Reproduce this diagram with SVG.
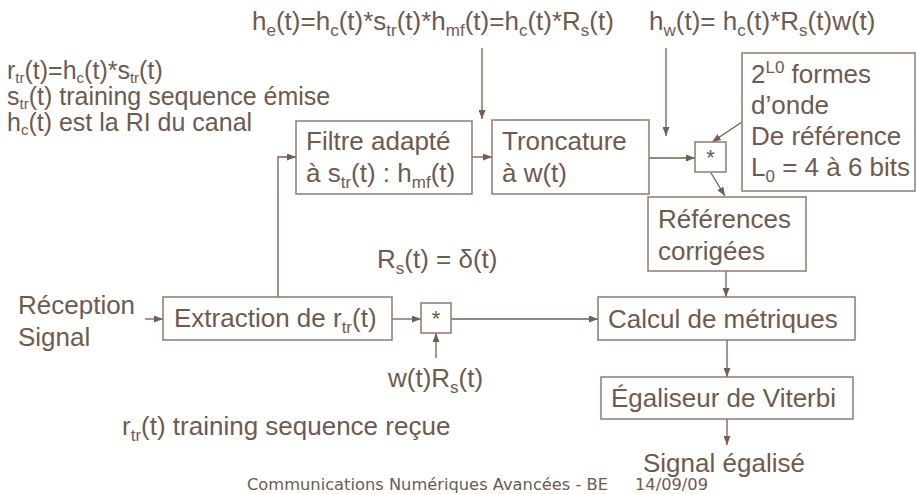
<svg xmlns="http://www.w3.org/2000/svg" width="916" height="494" viewBox="0 0 916 494">
<style>
text{font-family:"Liberation Sans",Arial,sans-serif;font-size:26px;fill:#6e5a4e}
.sub{font-size:17px}
.sm{font-size:25px}
.sm .sub{font-size:15px}
.box{fill:#fff;stroke:#8f7a6e;stroke-width:1.5}
.ln{fill:none;stroke:#735e52;stroke-width:1.3;marker-end:url(#ah)}
.foot{font-family:"DejaVu Sans",Tahoma,sans-serif;font-size:16px}
</style>
<defs>
<marker id="ah" markerUnits="userSpaceOnUse" markerWidth="9" markerHeight="7" refX="9" refY="3.5" orient="auto">
<path d="M0,0 L9,3.5 L0,7 z" fill="#735e52"/>
</marker>
</defs>
<rect width="916" height="494" fill="#fff"/>

<g id="labels">
<text x="252" y="30">h<tspan class="sub" dy="6">e</tspan><tspan dy="-6">(t)=h</tspan><tspan class="sub" dy="6">c</tspan><tspan dy="-6">(t)*s</tspan><tspan class="sub" dy="6">tr</tspan><tspan dy="-6">(t)*h</tspan><tspan class="sub" dy="6">mf</tspan><tspan dy="-6">(t)=h</tspan><tspan class="sub" dy="6">c</tspan><tspan dy="-6">(t)*R</tspan><tspan class="sub" dy="6">s</tspan><tspan dy="-6">(t)</tspan></text>
<text x="649" y="30">h<tspan class="sub" dy="6">w</tspan><tspan dy="-6">(t)= h</tspan><tspan class="sub" dy="6">c</tspan><tspan dy="-6">(t)*R</tspan><tspan class="sub" dy="6">s</tspan><tspan dy="-6">(t)w(t)</tspan></text>
<text class="sm" x="7" y="79">r<tspan class="sub" dy="4">tr</tspan><tspan dy="-4">(t)=h</tspan><tspan class="sub" dy="4">c</tspan><tspan dy="-4">(t)*s</tspan><tspan class="sub" dy="4">tr</tspan><tspan dy="-4">(t)</tspan></text>
<text class="sm" x="7" y="105">s<tspan class="sub" dy="4">tr</tspan><tspan dy="-4">(t) training sequence émise</tspan></text>
<text class="sm" x="7" y="131">h<tspan class="sub" dy="4">c</tspan><tspan dy="-4">(t) est la RI du canal</tspan></text>
<text x="377" y="268">R<tspan class="sub" dy="6">s</tspan><tspan dy="-6">(t) = δ(t)</tspan></text>
<text x="18" y="314">Réception</text>
<text x="18" y="346">Signal</text>
<text x="388" y="387">w(t)R<tspan class="sub" dy="6">s</tspan><tspan dy="-6">(t)</tspan></text>
<text x="122" y="435">r<tspan class="sub" dy="6">tr</tspan><tspan dy="-6">(t) training sequence reçue</tspan></text>
<text x="643" y="472">Signal égalisé</text>
<text class="foot" x="247" y="490" textLength="361" lengthAdjust="spacingAndGlyphs">Communications Numériques Avancées - BE</text>
<text class="foot" x="635" y="490" textLength="73" lengthAdjust="spacingAndGlyphs">14/09/09</text>
</g>

<g id="connectors">
<line class="ln" x1="482" y1="48" x2="482" y2="119"/>
<line class="ln" x1="666" y1="48" x2="666" y2="136"/>
<line class="ln" x1="472" y1="157" x2="492" y2="157"/>
<polyline class="ln" points="278,297 278,157 296,157"/>
<line class="ln" x1="649" y1="158" x2="695" y2="158"/>
<line class="ln" x1="742" y1="122" x2="712" y2="142"/>
<line class="ln" x1="711" y1="173" x2="725" y2="196"/>
<line class="ln" x1="726" y1="271" x2="726" y2="297"/>
<line class="ln" x1="145" y1="319" x2="163" y2="319"/>
<line class="ln" x1="392" y1="319" x2="421" y2="319"/>
<line class="ln" x1="436" y1="358" x2="436" y2="333"/>
<line class="ln" x1="451" y1="319" x2="598" y2="319"/>
<line class="ln" x1="727" y1="340" x2="727" y2="377"/>
<line class="ln" x1="727" y1="419" x2="727" y2="445"/>
</g>

<g id="filtre">
<rect class="box" x="296" y="121" width="176" height="73"/>
<text x="306" y="150">Filtre adapté</text>
<text x="306" y="182">à s<tspan class="sub" dy="6">tr</tspan><tspan dy="-6">(t) : h</tspan><tspan class="sub" dy="6">mf</tspan><tspan dy="-6">(t)</tspan></text>
</g>

<g id="troncature">
<rect class="box" x="492" y="120" width="157" height="74"/>
<text x="502" y="150">Troncature</text>
<text x="502" y="182">à w(t)</text>
</g>

<g id="mult1">
<rect class="box" x="695" y="142" width="31" height="30"/>
<text x="710.5" y="165" text-anchor="middle" style="font-size:22px">*</text>
</g>

<g id="formes">
<rect class="box" x="742" y="53" width="173" height="138"/>
<text x="751" y="83">2<tspan style="font-size:17px" dy="-10">L0</tspan><tspan dy="10"> formes</tspan></text>
<text x="751" y="114">d’onde</text>
<text x="751" y="145">De référence</text>
<text x="751" y="176">L<tspan class="sub" dy="6">0</tspan><tspan dy="-6"> = 4 à 6 bits</tspan></text>
</g>

<g id="references">
<rect class="box" x="648" y="197" width="158" height="74"/>
<text x="658" y="228">Références</text>
<text x="658" y="260">corrigées</text>
</g>

<g id="extraction">
<rect class="box" x="163" y="297" width="229" height="43"/>
<text x="174" y="327">Extraction de r<tspan class="sub" dy="6">tr</tspan><tspan dy="-6">(t)</tspan></text>
</g>

<g id="mult2">
<rect class="box" x="421" y="303" width="30" height="30"/>
<text x="436" y="326" text-anchor="middle" style="font-size:22px">*</text>
</g>

<g id="calcul">
<rect class="box" x="598" y="297" width="257" height="43"/>
<text x="608" y="328">Calcul de métriques</text>
</g>

<g id="egaliseur">
<rect class="box" x="601" y="377" width="252" height="42"/>
<text x="611" y="407">Égaliseur de Viterbi</text>
</g>
</svg>
